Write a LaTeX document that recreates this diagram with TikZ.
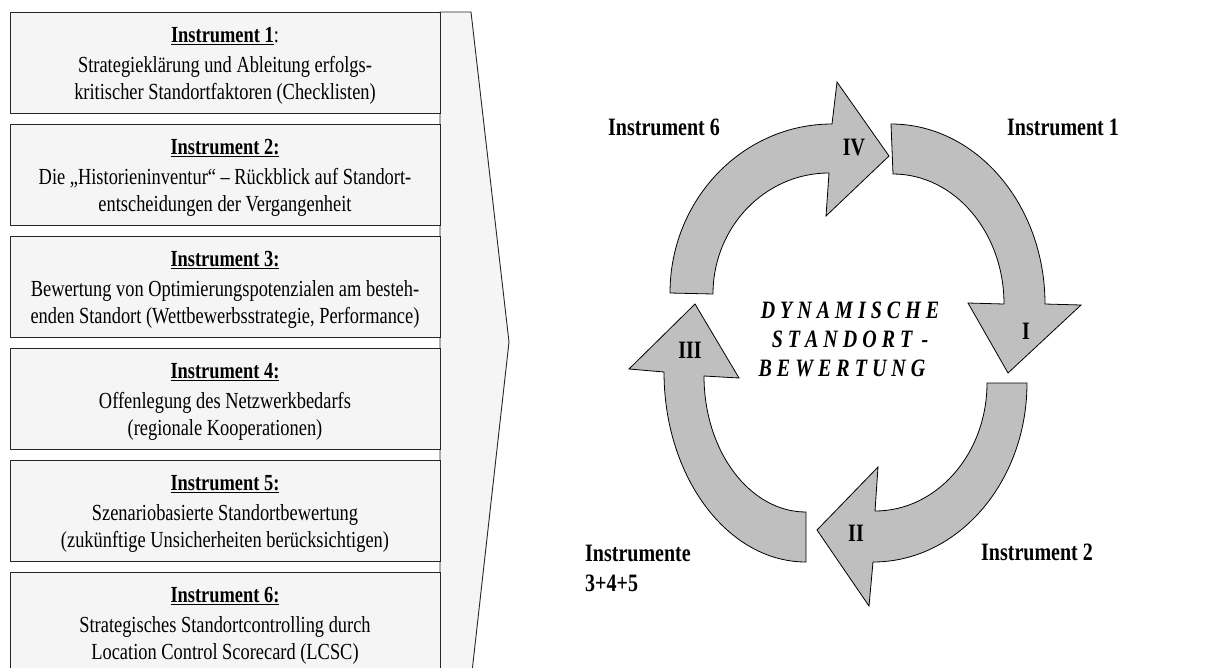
\documentclass[tikz,border=0pt]{standalone}
\usepackage{fontspec}
\setmainfont{Liberation Serif}[FakeStretch=0.8]
\newcommand{\firstline}{\rule{0pt}{17pt}}
\begin{document}
\begin{tikzpicture}[x=1pt,y=1pt,
  infobox/.style={draw=black!85, line width=0.9pt, fill=black!4,
    minimum width=430pt, minimum height=101pt, inner sep=0pt},
  infotext/.style={anchor=north, align=center, inner sep=0pt,
    font=\fontsize{23}{27}\selectfont},
  chevron/.style={draw=black!85, line width=0.9pt, fill=black!4},
  cyclearrow/.style={draw=black, line width=0.8pt, fill=black!25, line join=miter},
  steplabel/.style={font=\fontsize{25}{29}\selectfont\bfseries, inner sep=0pt},
  phase/.style={font=\fontsize{25}{30}\selectfont\bfseries, inner sep=0pt},
  centretitle/.style={font=\fontsize{25}{29}\selectfont\bfseries\itshape, align=center, inner sep=0pt}
]
\useasboundingbox (0,0) rectangle (1225,-667);

% chevron behind the list of instruments
\path[chevron] (440,-12) -- (471,-12) -- (509,-342) -- (472,-672) -- (440,-672) -- cycle;

% list of instruments: frames
\node[infobox] (box1) at (225,-62.5) {};
\node[infobox] (box2) at (225,-174.5) {};
\node[infobox] (box3) at (225,-286.5) {};
\node[infobox] (box4) at (225,-398.5) {};
\node[infobox] (box5) at (225,-510.5) {};
\node[infobox] (box6) at (225,-622.5) {};

% list of instruments: texts (first baseline 31pt below the frame top)
\node[infotext] (txt1) at ([yshift=-14pt]box1.north) {\firstline\underline{\textbf{Instrument 1}}:\\[3pt]Strategieklärung und Ableitung erfolgs-\\kritischer Standortfaktoren (Checklisten)};
\node[infotext] (txt2) at ([yshift=-14pt]box2.north) {\firstline\underline{\textbf{Instrument 2:}}\\[3pt]Die „Historieninventur“ – Rückblick auf Standort-\\entscheidungen der Vergangenheit};
\node[infotext] (txt3) at ([yshift=-14pt]box3.north) {\firstline\underline{\textbf{Instrument 3:}}\\[3pt]Bewertung von Optimierungspotenzialen am besteh-\\enden Standort (Wettbewerbsstrategie, Performance)};
\node[infotext] (txt4) at ([yshift=-14pt]box4.north) {\firstline\underline{\textbf{Instrument 4:}}\\[3pt]Offenlegung des Netzwerkbedarfs\\(regionale Kooperationen)};
\node[infotext] (txt5) at ([yshift=-14pt]box5.north) {\firstline\underline{\textbf{Instrument 5:}}\\[3pt]Szenariobasierte Standortbewertung\\(zukünftige Unsicherheiten berücksichtigen)};
\node[infotext] (txt6) at ([yshift=-14pt]box6.north) {\firstline\underline{\textbf{Instrument 6:}}\\[3pt]Strategisches Standortcontrolling durch\\Location Control Scorecard (LCSC)};

% cycle: arrow IV (left to top)
\path[cyclearrow] (670,-293) arc[start angle=180, end angle=90, x radius=162, y radius=169]
  -- (837,-82) -- (889,-156) -- (826,-216) -- (829,-173)
  arc[start angle=90, end angle=180, x radius=116, y radius=121] -- cycle;
% arrow I (top to right)
\path[cyclearrow] (891,-124) arc[start angle=90, end angle=0, x radius=154, y radius=180]
  -- (1081,-305) -- (1008,-373) -- (968,-303) -- (1004,-304)
  arc[start angle=0, end angle=90, x radius=111, y radius=130] -- cycle;
% arrow II (right to bottom)
\path[cyclearrow] (1027,-383) arc[start angle=0, end angle=-90, x radius=154, y radius=179]
  -- (869,-606) -- (817,-530) -- (878,-467) -- (875,-511)
  arc[start angle=-90, end angle=0, x radius=112, y radius=128] -- cycle;
% arrow III (bottom to left)
\path[cyclearrow] (806,-562) arc[start angle=-90, end angle=-180, x radius=142, y radius=190]
  -- (629,-369) -- (695,-304) -- (739,-378) -- (704,-376)
  arc[start angle=-180, end angle=-90, x radius=102, y radius=136] -- cycle;

% numerals on the arrows
\node[steplabel] (nIV) at (854,-147) {IV};
\node[steplabel] (nI) at (1026,-331) {I};
\node[steplabel] (nII) at (856,-533) {II};
\node[steplabel] (nIII) at (690,-350) {III};

% instruments assigned to the phases
\node[phase] (p6) at (664,-127) {Instrument 6};
\node[phase] (p1) at (1063,-127) {Instrument 1};
\node[phase] (p2) at (1037,-552) {Instrument 2};
\node[phase, anchor=west, align=left] (p345) at (585,-568) {Instrumente\\3+4+5};

% title in the middle of the cycle
\node[centretitle] (title) at (850,-339) {D Y N A M I S C H E\\S T A N D O R T \,-\\B E W E R T U N G\hspace*{16pt}};
\end{tikzpicture}
\end{document}
